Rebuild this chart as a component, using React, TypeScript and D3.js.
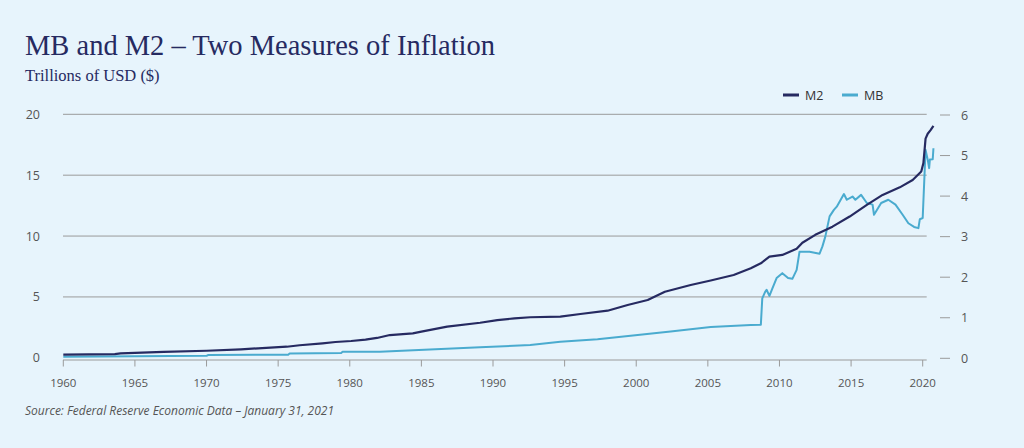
import * as d3 from "d3";

// M2 money stock, trillions of USD (left axis)
const m2Years = [
  1960, 1963.6, 1964, 1967, 1970, 1972.4, 1973.6, 1975.6, 1976.5, 1978.1,
  1979, 1980.1, 1981.1, 1981.9, 1982.8, 1984.4, 1985, 1986.8, 1989.1, 1990.3,
  1991.5, 1992.6, 1994.7, 1996.1, 1998, 1999.4, 2000.8, 2002, 2003.8, 2005.2,
  2006.8, 2008, 2008.7, 2009.3, 2010.2, 2011.2, 2011.6, 2012.5, 2013.7, 2014.9,
  2016.1, 2017.2, 2018.4, 2019.3, 2019.9, 2020.05, 2020.2, 2020.35, 2020.55, 2020.75,
];
const m2Values = [
  0.26, 0.30, 0.37, 0.48, 0.58, 0.70, 0.78, 0.91, 1.03, 1.19,
  1.30, 1.38, 1.49, 1.63, 1.87, 2.01, 2.15, 2.56, 2.88, 3.10,
  3.24, 3.33, 3.38, 3.60, 3.87, 4.34, 4.75, 5.43, 5.98, 6.35,
  6.80, 7.35, 7.76, 8.31, 8.45, 8.95, 9.45, 10.10, 10.77, 11.60,
  12.56, 13.38, 14.00, 14.60, 15.30, 16.00, 18.00, 18.40, 18.70, 19.05,
];

// Monetary base, trillions of USD (right axis)
const mbYears = [
  1960, 1970, 1970.1, 1975.7, 1975.8, 1979.4, 1979.5, 1982.1, 1985.6, 1989.1,
  1992.6, 1994.7, 1997.3, 2000.1, 2002.4, 2005.2, 2008, 2008.7, 2008.8, 2009.0,
  2009.1, 2009.3, 2009.5, 2009.8, 2010.2, 2010.6, 2010.9, 2011.2, 2011.4, 2012.1,
  2012.8, 2013.0, 2013.2, 2013.5, 2013.8, 2014.0, 2014.5, 2014.7, 2015.1, 2015.3,
  2015.7, 2016.1, 2016.5, 2016.6, 2017.1, 2017.6, 2018.1, 2018.6, 2019.0, 2019.4,
  2019.7, 2019.8, 2020.0, 2020.2, 2020.35, 2020.45, 2020.5, 2020.7, 2020.75,
];
const mbValues = [
  0.04, 0.06, 0.08, 0.09, 0.12, 0.13, 0.16, 0.16, 0.22, 0.27,
  0.33, 0.41, 0.47, 0.575, 0.66, 0.77, 0.82, 0.83, 1.48, 1.64,
  1.69, 1.54, 1.72, 1.98, 2.10, 1.98, 1.96, 2.18, 2.63, 2.63,
  2.58, 2.76, 3.00, 3.50, 3.66, 3.74, 4.05, 3.91, 3.99, 3.91,
  4.03, 3.83, 3.79, 3.54, 3.83, 3.91, 3.79, 3.54, 3.33, 3.24,
  3.21, 3.43, 3.46, 5.14, 4.90, 4.69, 4.90, 4.91, 5.18,
];

const xTicks = [1960, 1965, 1970, 1975, 1980, 1985, 1990, 1995, 2000, 2005, 2010, 2015, 2020];
const leftTicks = [0, 5, 10, 15, 20];
const rightTicks = [0, 1, 2, 3, 4, 5, 6];

const seriesNames = ["M2", "MB"];
const seriesColors = ["#262a61", "#4aabcf"];

const W = 1024;
const H = 448;

export default function App() {
  const x = d3.scaleLinear().domain([1960, 2020]).range([63.3, 922.7]);
  const yL = d3.scaleLinear().domain([0, 20]).range([357.8, 114.3]);
  const yR = d3.scaleLinear().domain([0, 6]).range([358.3, 115]);

  const m2 = m2Years.map((yr, i) => [yr, m2Values[i]] as [number, number]);
  const mb = mbYears.map((yr, i) => [yr, mbValues[i]] as [number, number]);

  const lineL = d3.line<[number, number]>().x(d => x(d[0])).y(d => yL(d[1]));
  const lineR = d3.line<[number, number]>().x(d => x(d[0])).y(d => yR(d[1]));

  const gridRight = 926.7;
  const axisY = 360;
  const sans = "'Open Sans', 'DejaVu Sans', sans-serif";

  return (
    <svg width={W} height={H} style={{ position: "absolute", left: 0, top: 0 }}>
      <rect width={W} height={H} fill="#e7f4fc" />

      <text x={25} y={55} fontFamily="'Liberation Serif', serif" fontSize={28.5} fill="#262a61">
        MB and M2 – Two Measures of Inflation
      </text>
      <text x={25} y={81} fontFamily="'Liberation Serif', serif" fontSize={16.5} fill="#262a61">
        Trillions of USD ($)
      </text>

      {/* legend */}
      {seriesNames.map((n, i) => (
        <g key={n} transform={`translate(${783 + i * 59},95)`}>
          <line x1={0} x2={16} y1={0} y2={0} stroke={seriesColors[i]} strokeWidth={3} />
          <text x={22} y={4.5} fontFamily={sans} fontSize={12.5} fill="#333">{n}</text>
        </g>
      ))}

      {/* horizontal gridlines */}
      {leftTicks.filter(t => t > 0).map(t => (
        <line key={t} x1={63} x2={gridRight} y1={yL(t)} y2={yL(t)} stroke="#9a9a9a" strokeWidth={1} />
      ))}
      {leftTicks.map(t => (
        <text key={t} x={40} y={yL(t) + 4.5} textAnchor="end" fontFamily={sans} fontSize={12.5} fill="#555">
          {t}
        </text>
      ))}

      {/* right axis */}
      {rightTicks.map(t => (
        <g key={t}>
          <line x1={940} x2={950} y1={yR(t)} y2={yR(t)} stroke="#9a9a9a" strokeWidth={1} />
          <text x={961} y={yR(t) + 4.5} fontFamily={sans} fontSize={12.5} fill="#555">{t}</text>
        </g>
      ))}

      {/* x axis */}
      <line x1={63} x2={gridRight} y1={axisY} y2={axisY} stroke="#9a9a9a" strokeWidth={1} />
      {xTicks.map(t => (
        <g key={t}>
          <line x1={x(t)} x2={x(t)} y1={axisY} y2={axisY + 6.5} stroke="#9a9a9a" strokeWidth={1} />
          <text x={x(t)} y={387} textAnchor="middle" fontFamily={sans} fontSize={11.5} fill="#555">{t}</text>
        </g>
      ))}

      <path d={lineR(mb) ?? ""} fill="none" stroke={seriesColors[1]} strokeWidth={2} strokeLinejoin="round" />
      <path d={lineL(m2) ?? ""} fill="none" stroke={seriesColors[0]} strokeWidth={2.2} strokeLinejoin="round" />

      <text x={25} y={415} fontFamily={sans} fontStyle="italic" fontSize={12} fill="#555">
        Source: Federal Reserve Economic Data – January 31, 2021
      </text>
    </svg>
  );
}
